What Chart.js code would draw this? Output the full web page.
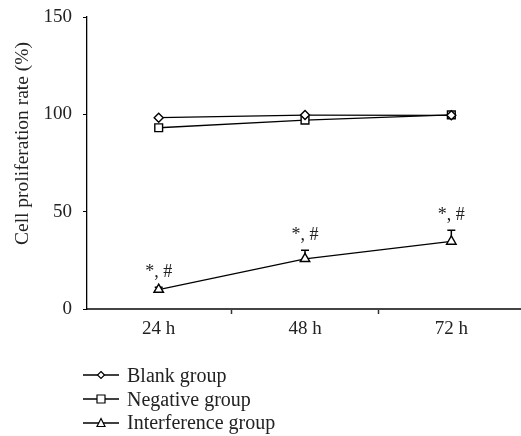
<!DOCTYPE html>
<html>
<head>
<meta charset="utf-8">
<script src="https://cdn.jsdelivr.net/npm/chart.js@4"></script>
<style>
  html, body { margin: 0; padding: 0; background: #fff; }
  #wrap { position: relative; width: 521px; height: 436px; overflow: hidden; }
  #legend { position: absolute; left: 83px; top: 364px; font-family: "Liberation Serif", serif; font-size: 20px; color: #222; }
  #legend div { height: 23.7px; line-height: 23.7px; white-space: nowrap; }
  #legend canvas { vertical-align: middle; margin-right: 8px; position: relative; top: -2px; }
</style>
</head>
<body>
<div id="wrap">
  <canvas id="grafico"></canvas>
  <div id="legend"></div>
</div>
<script>
// dados
const categorias = ['24 h', '48 h', '72 h'];
const blank = [98.3, 99.6, 99.5];
const negative = [93.1, 97.0, 99.7];
const interference = [10.0, 25.8, 34.7];
const interferenceErr = [1.2, 4.4, 5.7];
const marcas = ['*, #', '*, #', '*, #'];
const nomes = ['Blank group', 'Negative group', 'Interference group'];
const yTicks = [0, 50, 100, 150];

const serif = '"Liberation Serif", serif';

function pontos(valores) {
  return valores.map((v, i) => ({ x: i, y: v }));
}

// barras de erro (so para cima) e as marcas de significancia
const errorBars = {
  id: 'errorBars',
  beforeDatasetsDraw(chart) {
    const { ctx, scales: { x, y } } = chart;
    ctx.save();
    ctx.strokeStyle = '#000';
    ctx.lineWidth = 1.5;
    interference.forEach((v, i) => {
      const px = x.getPixelForValue(i);
      const y0 = y.getPixelForValue(v);
      const y1 = y.getPixelForValue(v + interferenceErr[i]);
      ctx.beginPath();
      ctx.moveTo(px, y0);
      ctx.lineTo(px, y1);
      ctx.moveTo(px - 4, y1);
      ctx.lineTo(px + 4, y1);
      ctx.stroke();
    });
    ctx.restore();
  },
  afterDatasetsDraw(chart) {
    const { ctx, scales: { x, y } } = chart;
    ctx.save();
    ctx.fillStyle = '#222';
    ctx.font = '18px ' + serif;
    ctx.textAlign = 'center';
    ctx.textBaseline = 'middle';
    interference.forEach((v, i) => {
      const px = x.getPixelForValue(i);
      const top = y.getPixelForValue(v + interferenceErr[i]);
      ctx.fillText(marcas[i], px, top - 15);
    });
    ctx.restore();
  }
};

const estilos = [
  { pointStyle: 'rectRot', radius: 4.5 },
  { pointStyle: 'rect', radius: 5.5 },
  { pointStyle: 'triangle', radius: 5.5 }
];
const series = [blank, negative, interference];

const ctx = document.getElementById('grafico');
// um pouco mais largo que a janela: o eixo x vai ate a borda
ctx.width = 527; ctx.height = 436;

new Chart(ctx, {
  type: 'line',
  data: {
    datasets: series.map((s, k) => ({
      label: nomes[k],
      data: pontos(s),
      borderColor: '#000',
      borderWidth: 1.3,
      backgroundColor: '#fff',
      pointStyle: estilos[k].pointStyle,
      pointRadius: estilos[k].radius,
      pointBorderWidth: 1.4,
      pointBorderColor: '#000',
      pointBackgroundColor: '#fff',
      tension: 0
    }))
  },
  options: {
    responsive: false,
    animation: false,
    events: [],
    layout: { padding: { top: 0, right: 0, bottom: 87, left: 0 } },
    plugins: {
      legend: { display: false },
      tooltip: { enabled: false }
    },
    scales: {
      x: {
        type: 'linear',
        min: -0.49,
        max: 2.47,
        afterBuildTicks: (scale) => {
          scale.ticks = [0, 0.5, 1, 1.5, 2].map(v => ({ value: v }));
        },
        afterFit: (scale) => { scale.height = 40; },
        ticks: {
          autoSkip: false,
          maxRotation: 0,
          padding: 4,
          color: '#222',
          font: { family: serif, size: 19 },
          callback: (v) => Number.isInteger(v) ? categorias[v] : ''
        },
        grid: {
          drawOnChartArea: false,
          tickLength: 5,
          tickWidth: 1.5,
          tickColor: (c) => (c.tick && !Number.isInteger(c.tick.value)) ? '#333' : 'rgba(0,0,0,0)'
        },
        border: { color: '#444', width: 2 }
      },
      y: {
        min: 0,
        max: 150,
        afterBuildTicks: (scale) => {
          scale.ticks = yTicks.map(v => ({ value: v }));
        },
        afterFit: (scale) => {
          scale.width = 87;
          scale.paddingTop = 17; // topo do eixo em 150
        },
        ticks: {
          padding: 11,
          color: '#222',
          font: { family: serif, size: 19 }
        },
        grid: {
          drawOnChartArea: false,
          tickLength: 4,
          tickColor: '#000'
        },
        border: { color: '#000', width: 1.3 },
        title: {
          display: true,
          // espacos no inicio para subir o texto como no original
          text: '\u00A0\u00A0\u00A0\u00A0\u00A0\u00A0\u00A0\u00A0Cell proliferation rate (%)',
          color: '#222',
          font: { family: serif, size: 19.5 },
          padding: { top: 11, bottom: 0 }
        }
      }
    }
  },
  plugins: [errorBars]
});

// legenda em html com icones desenhados
const legenda = document.getElementById('legend');
nomes.forEach((nome, k) => {
  const row = document.createElement('div');
  const c = document.createElement('canvas');
  c.width = 36; c.height = 14;
  const g = c.getContext('2d');
  g.strokeStyle = '#000';
  g.lineWidth = 1.3;
  g.beginPath(); g.moveTo(0, 7); g.lineTo(36, 7); g.stroke();
  g.fillStyle = '#fff';
  g.lineWidth = 1.2;
  g.beginPath();
  if (k === 0) {
    g.moveTo(18, 3.5); g.lineTo(21.5, 7); g.lineTo(18, 10.5); g.lineTo(14.5, 7); g.closePath();
  } else if (k === 1) {
    g.rect(14, 3, 8, 8);
  } else {
    g.moveTo(18, 2.5); g.lineTo(22, 10.5); g.lineTo(14, 10.5); g.closePath();
  }
  g.fill(); g.stroke();
  row.appendChild(c);
  row.appendChild(document.createTextNode(nome));
  legenda.appendChild(row);
});
</script>
</body>
</html>
